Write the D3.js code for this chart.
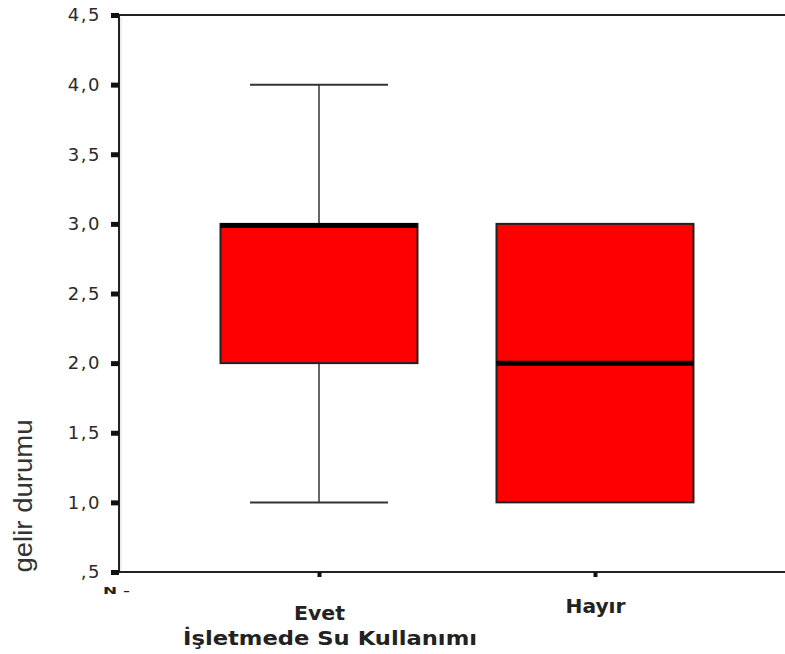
<!DOCTYPE html>
<html><head><meta charset="utf-8">
<script src="https://cdn.jsdelivr.net/npm/d3@7"></script>
<style>body{margin:0;background:#fff}svg{display:block}</style>
</head><body>
<script>
const categories = ["Evet", "Hayır"];
const whiskerLow = [1.0, 1.0];
const q1 = [2.0, 1.0];
const median = [3.0, 2.0];
const q3 = [3.0, 3.0];
const whiskerHigh = [4.0, 3.0];
const yTicks = [0.5, 1.0, 1.5, 2.0, 2.5, 3.0, 3.5, 4.0, 4.5];
const yTickLabels = [",5", "1,0", "1,5", "2,0", "2,5", "3,0", "3,5", "4,0", "4,5"];
const yTitle = "gelir durumu";
const xTitle = "İşletmede Su Kullanımı";

const W = 785, H = 654;
const svg = d3.select("body").append("svg").attr("width", W).attr("height", H);
const pLeft = 119, pTop = 15, pBottom = 572, pRight = 785;
const FONT = "'DejaVu Sans', Verdana, sans-serif";
const FONT2 = "'Liberation Sans', Arial, sans-serif";

const y = d3.scaleLinear().domain([0.5, 4.5]).range([pBottom, pTop]);
const x = d3.scalePoint().domain(categories).range([319, 595]);
const boxW = 197, capW = 138;

// frame
svg.append("line").attr("x1", 113).attr("x2", pRight).attr("y1", pTop).attr("y2", pTop).attr("stroke", "#222").attr("stroke-width", 2);
svg.append("line").attr("x1", pLeft).attr("x2", pLeft).attr("y1", pTop).attr("y2", pBottom).attr("stroke", "#222").attr("stroke-width", 2);
svg.append("line").attr("x1", pLeft + 2).attr("x2", pLeft + 2).attr("y1", pTop + 2).attr("y2", pBottom).attr("stroke", "#ddd").attr("stroke-width", 1);
svg.append("line").attr("x1", 113).attr("x2", pRight).attr("y1", pBottom).attr("y2", pBottom).attr("stroke", "#222").attr("stroke-width", 2);

// y ticks
const yAxis = d3.axisLeft(y).tickValues(yTicks).tickSize(0).tickPadding(18)
  .tickFormat((d, i) => yTickLabels[i]);
const gy = svg.append("g").attr("transform", `translate(${pLeft},0)`).call(yAxis);
gy.select(".domain").remove();
gy.selectAll("text").attr("font-family", FONT).attr("font-size", 18).attr("letter-spacing", 1.5).attr("fill", "#2a2a2a");
gy.selectAll(".tick").append("rect").attr("x", -8).attr("y", -2.5).attr("width", 8).attr("height", 5).attr("fill", "#111");

// x ticks
const xAxis = d3.axisBottom(x).tickSize(0).tickPadding(0);
const gx = svg.append("g").attr("transform", `translate(0,${pBottom})`).call(xAxis);
gx.select(".domain").remove();
const xLabelBase = [48, 41];
const xLabelW = [51, 60];
gx.selectAll("text").attr("font-family", FONT).attr("font-size", 19).attr("font-weight", "bold").attr("fill", "#222")
  .attr("dy", null).attr("y", (d, i) => xLabelBase[i])
  .attr("textLength", (d, i) => xLabelW[i]).attr("lengthAdjust", "spacingAndGlyphs");
gx.selectAll(".tick").append("rect").attr("x", -2).attr("y", 0).attr("width", 4).attr("height", 5).attr("fill", "#111");

// boxes
categories.forEach((c, i) => {
  const cx = x(c);
  const g = svg.append("g");
  if (whiskerHigh[i] > q3[i]) {
    g.append("line").attr("x1", cx).attr("x2", cx).attr("y1", y(q3[i])).attr("y2", y(whiskerHigh[i])).attr("stroke", "#666").attr("stroke-width", 2);
    g.append("line").attr("x1", cx - capW / 2).attr("x2", cx + capW / 2).attr("y1", y(whiskerHigh[i])).attr("y2", y(whiskerHigh[i])).attr("stroke", "#333").attr("stroke-width", 2);
  }
  if (whiskerLow[i] < q1[i]) {
    g.append("line").attr("x1", cx).attr("x2", cx).attr("y1", y(q1[i])).attr("y2", y(whiskerLow[i])).attr("stroke", "#666").attr("stroke-width", 2);
    g.append("line").attr("x1", cx - capW / 2).attr("x2", cx + capW / 2).attr("y1", y(whiskerLow[i])).attr("y2", y(whiskerLow[i])).attr("stroke", "#333").attr("stroke-width", 2);
  }
  g.append("rect").attr("x", cx - boxW / 2).attr("y", y(q3[i])).attr("width", boxW).attr("height", y(q1[i]) - y(q3[i]))
    .attr("fill", "#ff0000").attr("stroke", "#222").attr("stroke-width", 2);
  const my = y(median[i]) + (median[i] === q3[i] ? 1.5 : 0);
  g.append("line").attr("x1", cx - boxW / 2).attr("x2", cx + boxW / 2).attr("y1", my).attr("y2", my)
    .attr("stroke", "#000").attr("stroke-width", 5);
});

// titles
svg.append("text").attr("transform", `translate(32,496) rotate(-90)`).attr("text-anchor", "middle")
  .attr("font-family", FONT2).attr("font-size", 25).attr("fill", "#333")
  .attr("textLength", 153).attr("lengthAdjust", "spacingAndGlyphs").text(yTitle);
svg.append("text").attr("x", 330).attr("y", 645).attr("text-anchor", "middle")
  .attr("font-family", FONT).attr("font-size", 20).attr("font-weight", "bold").attr("fill", "#222")
  .attr("textLength", 294).attr("lengthAdjust", "spacingAndGlyphs").text(xTitle);
svg.append("text").attr("x", 103).attr("y", 594)
  .attr("font-family", FONT).attr("font-size", 9).attr("font-weight", "bold").attr("fill", "#222")
  .attr("textLength", 27).attr("lengthAdjust", "spacingAndGlyphs").text("N -");
</script>
</body></html>
